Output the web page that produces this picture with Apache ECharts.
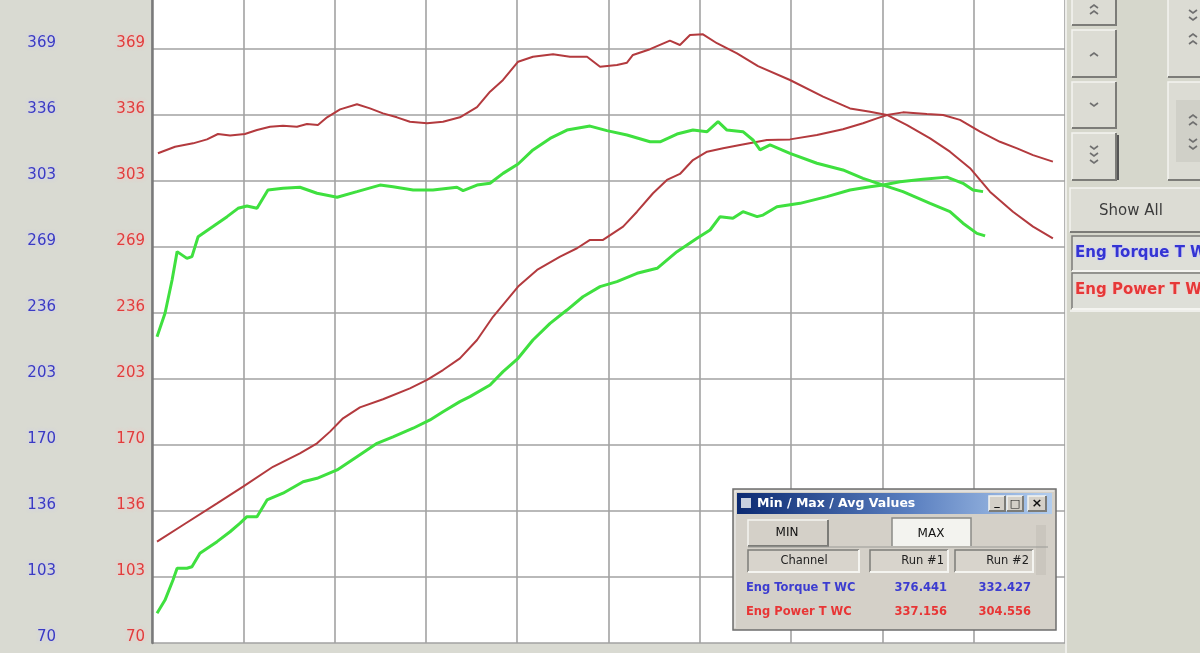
<!DOCTYPE html>
<html><head><meta charset="utf-8">
<script src="https://cdn.jsdelivr.net/npm/echarts@6/dist/echarts.min.js"></script>
<style>html,body{margin:0;padding:0;background:#d9dad2;overflow:hidden}#c{width:1200px;height:653px}</style>
</head><body><div id="c"></div>
<script>
// ---- data ----
const yTickValues = [70, 103.222, 136.444, 169.667, 202.889, 236.111, 269.333, 302.556, 335.778, 369];
const yTickLabels = ['70','103','136','170','203','236','269','303','336','369'];

const run1TorqueRpm = [2026,2101,2180,2241,2289,2342,2407,2460,2517,2574,2635,2679,2727,2767,2824,2898,2955,3012,3073,3130,3205,3275,3349,3424,3481,3538,3604,3669,3757,3831,3906,3963,4037,4081,4107,4182,4269,4313,4357,4414,4475,4563,4655,4795,4940,5058,5146,5220,5308,5409,5496,5584,5671,5772,5860,5947];
const run1Torque = [316.5,319.8,321.5,323.5,326.2,325.4,326.2,328.2,329.9,330.4,329.9,331.2,330.7,334.6,338.6,341.2,339.1,336.6,334.6,332.4,331.6,332.4,334.6,339.7,347.5,353.4,362.6,365.1,366.3,365.1,365.1,360.1,360.9,362.1,366.0,368.9,373.2,371.0,376.0,376.4,371.9,366.8,360.4,353.4,345.0,339.1,337.4,335.8,330.7,324.0,317.3,309.0,297.2,287.1,279.6,273.7];

const run1PowerRpm = [2022,2136,2285,2399,2530,2648,2723,2780,2837,2911,3012,3130,3205,3275,3349,3424,3494,3604,3687,3788,3862,3919,3976,4064,4125,4195,4256,4313,4370,4432,4502,4576,4694,4795,4913,5027,5115,5176,5220,5290,5395,5466,5540,5628,5715,5790,5860,5947];
const run1Power = [121.0,129.4,140.3,148.7,158.7,165.5,170.5,176.4,183.1,188.6,192.7,198.2,202.4,207.4,213.3,222.5,234.2,249.4,257.8,264.5,268.7,272.9,272.9,279.6,287.1,296.4,303.1,306.1,313.1,317.3,319.0,320.7,323.2,323.5,325.7,328.6,331.6,334.1,335.8,337.1,336.3,335.8,333.3,327.4,322.3,319.0,315.6,312.3];

const run2TorqueRpm = [2022,2057,2088,2110,2153,2175,2202,2267,2329,2377,2416,2460,2508,2574,2648,2723,2811,2898,2999,3056,3144,3231,3336,3363,3424,3481,3538,3604,3669,3744,3818,3919,3993,4081,4182,4226,4300,4370,4432,4480,4519,4589,4633,4664,4708,4795,4913,5027,5115,5203,5290,5409,5496,5553,5614,5650];
const run2Torque = [224.2,236.0,252.7,267.0,263.6,264.5,274.5,279.6,284.6,288.8,290.0,288.8,298.0,298.9,299.4,296.4,294.4,297.2,300.5,299.7,298.0,298.0,299.4,297.7,300.5,301.4,306.4,311.1,318.2,324.0,328.2,330.2,327.9,325.7,322.3,322.3,326.2,328.2,327.4,332.4,328.2,327.4,323.2,318.2,320.7,316.5,311.5,308.1,303.9,300.5,297.2,291.3,287.1,281.3,276.2,274.9];

const run2PowerRpm = [2022,2057,2092,2110,2153,2175,2210,2285,2342,2386,2416,2460,2504,2574,2662,2723,2811,2898,2986,3056,3144,3218,3275,3349,3393,3481,3538,3604,3669,3744,3818,3888,3963,4037,4125,4213,4300,4388,4445,4489,4545,4589,4651,4677,4738,4839,4957,5058,5146,5203,5277,5378,5483,5553,5597,5641];
const run2Power = [85.0,91.6,101.7,107.6,107.6,108.4,115.2,121.0,126.0,130.3,133.6,133.6,142.0,145.4,151.2,152.9,157.1,163.8,170.5,173.8,178.1,182.3,186.4,191.5,194.0,199.9,206.6,213.3,222.5,230.9,237.6,244.3,249.4,251.9,256.1,258.6,267.0,273.7,277.9,284.6,283.8,287.1,284.6,285.4,289.6,291.3,294.7,298.0,299.7,300.5,302.2,303.4,304.5,301.4,298.0,297.2];

const channelNames = ['Eng Torque T WC', 'Eng Power T WC'];
const maxRun1 = ['376.441', '337.156'];
const maxRun2 = ['332.427', '304.556'];
const legendNames = ['Eng Torque T W', 'Eng Power T W'];

// ---- helpers ----
const pair = (xs, ys) => xs.map((x, i) => [x, ys[i]]);
const lab = v => { const i = yTickValues.findIndex(t => Math.abs(t - v) < 0.5); return i >= 0 ? yTickLabels[i] : ''; };
const Z = 20;
function rect(x, y, w, h, fill, stroke, lw) {
  return {type:'rect', z:Z, silent:true, shape:{x, y, width:w, height:h}, style:{fill, stroke: stroke || null, lineWidth: lw || 0}};
}
function pl(points, stroke, lw, z) {
  return {type:'polyline', z: z || Z+2, silent:true, shape:{points}, style:{stroke, lineWidth: lw || 1, fill:null}};
}
function txt(x, y, text, o) {
  return {type:'text', z:Z+5, silent:true, x, y, style:Object.assign({text, fill:'#222', fontSize:11, fontFamily:'DejaVu Sans', align:'left', verticalAlign:'middle'}, o || {})};
}
function bevel(x, y, w, h, fill, sunken) {
  const lt = sunken ? '#7c7c78' : '#f4f4f0';
  const rb = sunken ? '#f4f4f0' : '#7c7c78';
  return [
    rect(x, y, w, h, fill),
    pl([[x, y + h], [x, y], [x + w, y]], lt, 1.5),
    pl([[x + w, y], [x + w, y + h], [x, y + h]], rb, 2)
  ];
}
function chev(cx, cy, up) {
  const d = up ? -3 : 3;
  return pl([[cx - 4, cy], [cx, cy + d], [cx + 4, cy]], '#707070', 1.6);
}

const g = [];
// right panel
g.push(rect(1066, 0, 134, 653, '#d6d7cc'));
g.push(pl([[1066, 0], [1066, 653]], '#eeeeea', 2));
// left column buttons
g.push(...bevel(1072, -6, 44, 31, '#dcdcd4'));
g.push(chev(1094, 8, true), chev(1094, 14, true));
g.push(...bevel(1072, 30, 44, 47, '#dcdcd4'));
g.push(chev(1094, 56, true));
g.push(...bevel(1072, 82, 44, 46, '#dcdcd4'));
g.push(chev(1094, 103, false));
g.push(...bevel(1072, 133, 44, 47, '#dcdcd4'));
g.push(chev(1094, 146, false), chev(1094, 153, false), chev(1094, 160, false));
g.push(pl([[1118, 135], [1118, 180]], '#555', 2));
// right column buttons
g.push(...bevel(1168, -6, 40, 83, '#dcdcd4'));
g.push(chev(1193, 10, false), chev(1193, 17, false), chev(1193, 37, true), chev(1193, 44, true));
g.push(...bevel(1168, 82, 40, 98, '#dcdcd4'));
g.push(rect(1176, 100, 30, 62, '#d0d0c8'));
g.push(chev(1193, 118, true), chev(1193, 125, true), chev(1193, 139, false), chev(1193, 146, false));
// Show All
g.push(...bevel(1070, 188, 132, 44, '#dcdcd4'));
g.push(txt(1131, 211, 'Show All', {fill:'#3c3c3c', fontSize:15, align:'center'}));
// legend boxes
g.push(...bevel(1072, 236, 130, 35, '#dedfd8', true));
g.push(txt(1075, 253, legendNames[0], {fill:'#3434d4', fontSize:15, fontWeight:'bold', textShadowColor:'rgba(200,200,255,0.9)', textShadowBlur:3}));
g.push(...bevel(1072, 273, 130, 36, '#dedfd8', true));
g.push(txt(1075, 290, legendNames[1], {fill:'#e63838', fontSize:15, fontWeight:'bold', textShadowColor:'rgba(255,200,200,0.9)', textShadowBlur:3}));
g.push(pl([[1070, 311], [1200, 311]], '#eeeeea', 2));

// dialog
g.push(rect(733, 489, 323, 141, '#d4d0c8', '#6e6e6e', 1.5));
g.push(pl([[735, 628], [735, 491], [1054, 491]], '#f0f0f0', 1));
g.push({type:'rect', z:Z, silent:true, shape:{x:737, y:493, width:315, height:21},
  style:{fill:{type:'linear', x:0, y:0, x2:1, y2:0, colorStops:[{offset:0, color:'#0c2a72'}, {offset:0.55, color:'#5a7fc0'}, {offset:1, color:'#b2cdee'}]}}});
g.push(rect(741, 498, 10, 10, '#c8d0e0'));
g.push(txt(757, 504, 'Min / Max / Avg Values', {fill:'#ffffff', fontSize:12.5, fontWeight:'bold'}));
g.push(...bevel(989, 496, 16, 15, '#d4d0c8'));
g.push(txt(997, 502, '_', {align:'center', fontSize:11, fontWeight:'bold', fill:'#111'}));
g.push(...bevel(1007, 496, 16, 15, '#d4d0c8'));
g.push(txt(1015, 504, '□', {align:'center', fontSize:11, fill:'#111'}));
g.push(...bevel(1028, 496, 18, 15, '#d4d0c8'));
g.push(txt(1037, 504, '×', {align:'center', fontSize:13, fontWeight:'bold', fill:'#111'}));
// tabs
g.push(...bevel(748, 520, 80, 26, '#d4d0c8'));
g.push(txt(787, 533, 'MIN', {align:'center', fontSize:12, fill:'#111'}));
g.push(rect(892, 518, 79, 28, '#f3f3ef'));
g.push(pl([[892, 546], [892, 518], [971, 518], [971, 546]], '#8a8a86', 1.5));
g.push(txt(931, 534, 'MAX', {align:'center', fontSize:12, fill:'#111'}));
g.push(pl([[748, 547], [1048, 547]], '#9a9a96', 1));
g.push(rect(1036, 525, 10, 50, '#cac6be'));
// header
g.push(...bevel(748, 550, 111, 22, '#d8d4cc', true));
g.push(txt(804, 561, 'Channel', {align:'center', fontSize:11.5, fill:'#222'}));
g.push(...bevel(870, 550, 78, 22, '#d8d4cc', true));
g.push(txt(944, 561, 'Run #1', {align:'right', fontSize:11.5, fill:'#222'}));
g.push(...bevel(955, 550, 78, 22, '#d8d4cc', true));
g.push(txt(1029, 561, 'Run #2', {align:'right', fontSize:11.5, fill:'#222'}));
// rows
const rowCol = ['#3c3cd0', '#e83535'];
[588, 612].forEach((yy, i) => {
  g.push(txt(746, yy, channelNames[i], {fill:rowCol[i], fontSize:11.5, fontWeight:'bold'}));
  g.push(txt(947, yy, maxRun1[i], {fill:rowCol[i], fontSize:11.5, fontWeight:'bold', align:'right'}));
  g.push(txt(1031, yy, maxRun2[i], {fill:rowCol[i], fontSize:11.5, fontWeight:'bold', align:'right'}));
});

const gridLine = {show:true, lineStyle:{color:'#a2a2a2', width:1.6}};
const chart = echarts.init(document.getElementById('c'), null, {renderer:'canvas'});
chart.setOption({
  animation:false,
  backgroundColor:'#d9dad2',
  grid:{left:152, right:135, top:0, bottom:10, show:true, backgroundColor:'#ffffff', borderWidth:0},
  xAxis:{type:'value', min:2000, max:6000, interval:400,
    axisLabel:{show:false}, axisTick:{show:false}, axisLine:{show:false}, splitLine:gridLine},
  yAxis:[
    {type:'value', min:70, max:393.66, position:'left',
      axisLine:{show:true, onZero:false, lineStyle:{color:'#7a7a7a', width:2.5}},
      axisTick:{show:false, customValues:yTickValues},
      axisLabel:{customValues:yTickValues, formatter:lab, color:'#e23c3c', fontSize:15, fontFamily:'DejaVu Sans',
        margin:7, verticalAlign:'bottom', lineHeight:11, textShadowColor:'rgba(255,190,190,0.95)', textShadowBlur:4},
      splitLine:gridLine},
    {type:'value', min:70, max:393.66, position:'left', offset:90,
      axisLine:{show:false}, axisTick:{show:false, customValues:yTickValues},
      axisLabel:{customValues:yTickValues, formatter:lab, color:'#3a3ac4', fontSize:15, fontFamily:'DejaVu Sans',
        margin:6, verticalAlign:'bottom', lineHeight:11, textShadowColor:'rgba(200,200,255,0.95)', textShadowBlur:4},
      splitLine:{show:false}}
  ],
  series:[
    {name:'Run #1 Eng Torque', type:'line', yAxisIndex:0, data:pair(run1TorqueRpm, run1Torque), showSymbol:false, lineStyle:{color:'#b33a3e', width:2}},
    {name:'Run #1 Eng Power', type:'line', yAxisIndex:0, data:pair(run1PowerRpm, run1Power), showSymbol:false, lineStyle:{color:'#b33a3e', width:2}},
    {name:'Run #2 Eng Torque', type:'line', yAxisIndex:0, data:pair(run2TorqueRpm, run2Torque), showSymbol:false, lineStyle:{color:'#3fe03f', width:3}},
    {name:'Run #2 Eng Power', type:'line', yAxisIndex:0, data:pair(run2PowerRpm, run2Power), showSymbol:false, lineStyle:{color:'#3fe03f', width:3}}
  ],
  graphic:g
});
</script>
</body></html>
